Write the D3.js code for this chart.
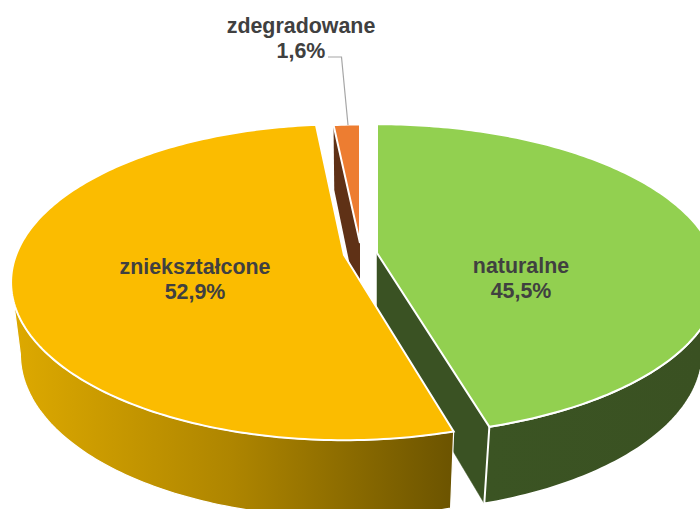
<!DOCTYPE html>
<html><head><meta charset="utf-8">
<script src="https://cdn.jsdelivr.net/npm/d3@7/dist/d3.min.js"></script>
<style>html,body{margin:0;padding:0;background:#fff;overflow:hidden}svg{display:block}text{font-family:"Liberation Sans",Arial,sans-serif;font-weight:700;font-size:21.4px;fill:#404040;text-anchor:middle}</style>
</head><body><svg width="700" height="509"></svg>
<script>
const categories = ["naturalne", "zniekształcone", "zdegradowane"];
const values = [45.5, 52.9, 1.6];
const valueLabels = ["45,5%", "52,9%", "1,6%"];
const topColors = ["#92D050", "#FBBC00", "#ED7D31"];
const cutColors = ["#3A5223", "#7A5F00", "#5F3116"];

// layout of the exploded slices, in screen pixels
const centers = [[377, 253], [344, 255], [360, 243]];
const radiusScaleX = [1, 0.976, 0.92];
const radiusScaleY = [1, 1.015, 0.92];
const shrink = [0.955, 0.972, 0.972];
const labelPos = [[521, 273], [195, 274], [301, 33]];
const RX = 336, RY = 151, K = 0.1725;

const svg = d3.select("svg");
const defs = svg.append("defs");
function grad(id, x1, x2, stops) {
  const g = defs.append("linearGradient").attr("id", id)
    .attr("gradientUnits", "userSpaceOnUse")
    .attr("x1", x1).attr("x2", x2).attr("y1", 0).attr("y2", 0);
  stops.forEach(([o, c]) => g.append("stop").attr("offset", o).attr("stop-color", c));
}
grad("sideY", 14, 452, [[0, "#DDA900"], [0.5, "#AE8500"], [1, "#6C5400"]]);
grad("sideG", 487, 700, [[0, "#3B5423"], [1, "#3A5122"]]);

const arcs = d3.pie().sort(null).value(d => d).startAngle(0).endAngle(2 * Math.PI)(values);

// perspective projection of a point of the unit disc, at the top or bottom of the pie
function proj(i, t, level) {
  const [cx, cy] = centers[i];
  const u = Math.sin(t), v = -Math.cos(t);
  const w = 1 - K * v;
  const s = level ? shrink[i] : 1;
  const x = cx + radiusScaleX[i] * RX * u / w * s;
  const y = cy + radiusScaleY[i] * RY * v / w + (level ? 71 + 6 * v : 0);
  return [x, y];
}
function depthAt(i) { return [centers[i][0], centers[i][1] + 71]; }
const line = d3.line();
function rim(i, a, b, level) {
  const n = Math.max(2, Math.ceil(Math.abs(b - a) * 60));
  return d3.range(n + 1).map(j => proj(i, a + (b - a) * j / n, level));
}
const tangent = Math.acos(-K);

function topFace(i) {
  const d = arcs[i];
  return line([centers[i], ...rim(i, d.startAngle, d.endAngle, 0)]) + "Z";
}
function side(i, a, b) {
  return line([...rim(i, a, b, 0), ...rim(i, b, a, 1)]) + "Z";
}
function cut(i, t) {
  return line([centers[i], proj(i, t, 0), proj(i, t, 1), depthAt(i)]) + "Z";
}
const W = "#fff";

// back to front
// green: outer wall and cut faces
svg.append("path").attr("d", cut(0, arcs[0].startAngle)).attr("fill", "#c9c9c9");
svg.append("path").attr("d", cut(0, arcs[0].endAngle)).attr("fill", cutColors[0]).attr("stroke", cutColors[0]).attr("stroke-width", .5);
svg.append("path").attr("d", side(0, tangent, arcs[0].endAngle)).attr("fill", "url(#sideG)").attr("stroke", W).attr("stroke-width", 2);
// orange cut face
svg.append("path").attr("d", cut(2, arcs[2].startAngle)).attr("fill", cutColors[2]);
// yellow outer wall
svg.append("path").attr("d", side(1, arcs[1].startAngle, 2 * Math.PI - tangent)).attr("fill", "url(#sideY)").attr("stroke", W).attr("stroke-width", 1.2);
// top faces
[2, 1, 0].forEach(i => {
  svg.append("path").attr("d", topFace(i)).attr("fill", topColors[i])
    .attr("stroke", W).attr("stroke-width", 2).attr("stroke-linejoin", "miter");
});

// leader line
svg.append("path").attr("d", "M328,57H341.5L348,125").attr("fill", "none").attr("stroke", "#a6a6a6").attr("stroke-width", 1.2);

// labels
categories.forEach((c, i) => {
  const [x, y] = labelPos[i];
  svg.append("text").attr("x", x).attr("y", y).text(c);
  svg.append("text").attr("x", x).attr("y", y + 24.5).text(valueLabels[i]);
});
</script></body></html>
